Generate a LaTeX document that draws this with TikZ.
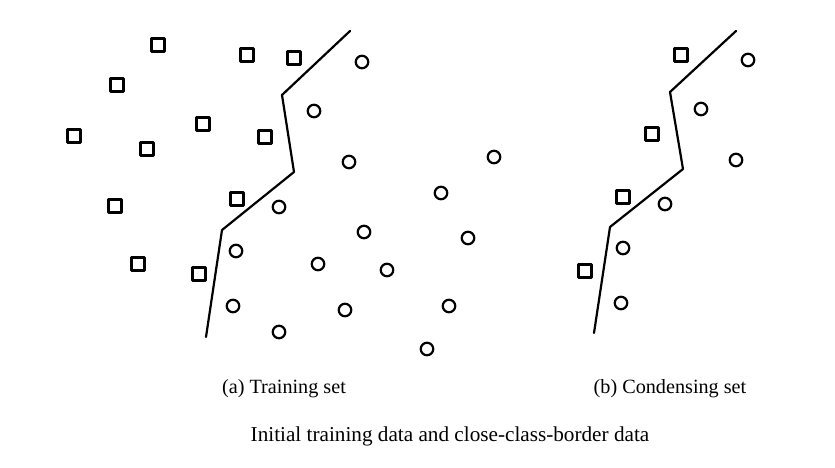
\documentclass[tikz,border=0pt]{standalone}
\usepackage{fontspec}
\setmainfont{Liberation Serif}

\begin{document}
\begin{tikzpicture}[line cap=round,line join=round,x=1pt,y=-1pt,
    sqpt/.style={draw,line width=2.3pt,rectangle,minimum size=13pt,inner sep=0pt},
    cipt/.style={draw,line width=2.2pt,circle,minimum size=12.5pt,inner sep=0pt},
    border/.style={line width=2.2pt},
    subcap/.style={font=\fontsize{20.2}{24}\selectfont},
    maincap/.style={font=\fontsize{21.2}{25}\selectfont}]
		\useasboundingbox (0,0) rectangle (835,467);
		% (a) training set: class 1
		\foreach \x/\y [count=\i] in {158/45,247/55,294/58,117/85,203/124,74/136,265/137,147/149,237/199,115/206,138/264,199/274}
			\node[sqpt] (sqa\i) at (\x,\y) {};
		% (a) training set: class 2
		\foreach \x/\y [count=\i] in {362/62,314/111,349/162,494/157,441/193,279/207,364/232,468/238,236/251,318/264,387/270,233/306,345/310,449/306,279/332,427/349}
			\node[cipt] (cia\i) at (\x,\y) {};
		% (a) class border
		\coordinate (ba1) at (350,31);
		\coordinate (ba2) at (282,95);
		\coordinate (ba3) at (294,172);
		\coordinate (ba4) at (222,230);
		\coordinate (ba5) at (206,337);
		\draw[border] (ba1)--(ba2)--(ba3)--(ba4)--(ba5);
		% (b) condensing set
		\foreach \x/\y [count=\i] in {681/55,652/134,623/197,585/271}
			\node[sqpt] (sqb\i) at (\x,\y) {};
		\foreach \x/\y [count=\i] in {748/60,701/109,736/160,665/204,623/248,621/303}
			\node[cipt] (cib\i) at (\x,\y) {};
		% (b) class border
		\coordinate (bb1) at (736,31);
		\coordinate (bb2) at (670,92);
		\coordinate (bb3) at (683,169);
		\coordinate (bb4) at (610,227);
		\coordinate (bb5) at (594,333);
		\draw[border] (bb1)--(bb2)--(bb3)--(bb4)--(bb5);
		% captions
		\node[subcap] (capa) at (284,389) {(a) Training set};
		\node[subcap] (capb) at (670,389) {(b) Condensing set};
		\node[maincap] (capmain) at (450,436) {Initial training data and close-class-border data};
		\end{tikzpicture}
\end{document}
